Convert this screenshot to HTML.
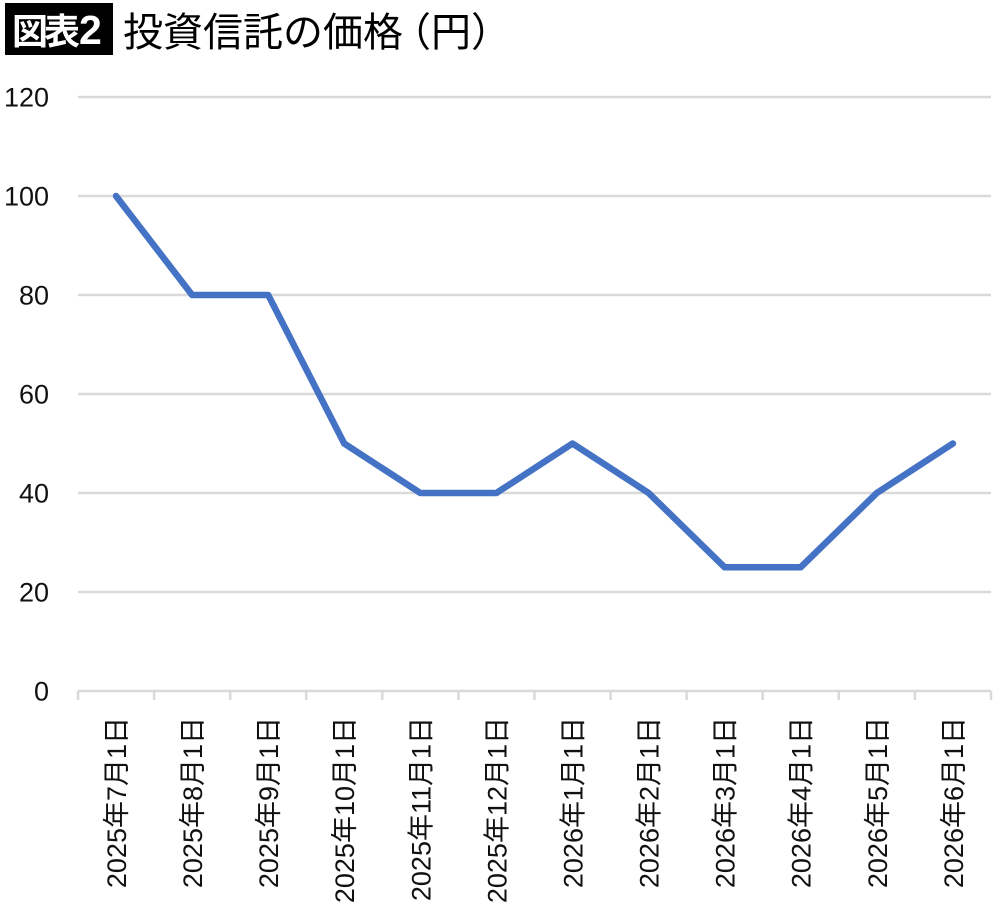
<!DOCTYPE html>
<html>
<head>
<meta charset="utf-8">
<style>
html,body{margin:0;padding:0;background:#fff;}
svg{display:block;}
text{font-family:"Liberation Sans","Noto Sans CJK JP",sans-serif;}
</style>
</head>
<body>
<svg width="1000" height="908" viewBox="0 0 1000 908" xmlns="http://www.w3.org/2000/svg">
<rect x="0" y="0" width="1000" height="908" fill="#fff"/>
<!-- Title -->
<rect x="5" y="3" width="108" height="52" fill="#000"/>
<text x="12" y="44" font-size="36" font-weight="bold" fill="#fff" letter-spacing="-4" style="font-family:'Noto Sans CJK JP',sans-serif">図表</text>
<text x="79" y="44" font-size="41" font-weight="bold" fill="#fff">2</text>
<text x="123" y="46" font-size="40" fill="#000" style="font-family:'Noto Sans CJK JP',sans-serif">投資信託の価格<tspan dx="-12">（</tspan><tspan>円</tspan><tspan>）</tspan></text>

<!-- Gridlines -->
<g stroke="#d9d9d9" stroke-width="2.5">
<line x1="78" y1="97" x2="991" y2="97"/>
<line x1="78" y1="196" x2="991" y2="196"/>
<line x1="78" y1="295" x2="991" y2="295"/>
<line x1="78" y1="394" x2="991" y2="394"/>
<line x1="78" y1="493" x2="991" y2="493"/>
<line x1="78" y1="592" x2="991" y2="592"/>
<line x1="78" y1="691" x2="991" y2="691"/>
</g>
<!-- Ticks -->
<g stroke="#d9d9d9" stroke-width="2.5">
<line x1="78" y1="691" x2="78" y2="700"/>
<line x1="154.1" y1="691" x2="154.1" y2="700"/>
<line x1="230.2" y1="691" x2="230.2" y2="700"/>
<line x1="306.2" y1="691" x2="306.2" y2="700"/>
<line x1="382.3" y1="691" x2="382.3" y2="700"/>
<line x1="458.4" y1="691" x2="458.4" y2="700"/>
<line x1="534.5" y1="691" x2="534.5" y2="700"/>
<line x1="610.6" y1="691" x2="610.6" y2="700"/>
<line x1="686.6" y1="691" x2="686.6" y2="700"/>
<line x1="762.7" y1="691" x2="762.7" y2="700"/>
<line x1="838.8" y1="691" x2="838.8" y2="700"/>
<line x1="914.9" y1="691" x2="914.9" y2="700"/>
<line x1="991" y1="691" x2="991" y2="700"/>
</g>

<!-- Y labels -->
<g font-size="27" fill="#111" text-anchor="end">
<text x="49" y="106.5">120</text>
<text x="49" y="205.5">100</text>
<text x="49" y="304.5">80</text>
<text x="49" y="403.5">60</text>
<text x="49" y="502.5">40</text>
<text x="49" y="601.5">20</text>
<text x="49" y="700.5">0</text>
</g>

<!-- X labels -->
<g font-size="27" fill="#111" text-anchor="end">
<text transform="translate(126,717) rotate(-90)">2025年7月1日</text>
<text transform="translate(202.1,717) rotate(-90)">2025年8月1日</text>
<text transform="translate(278.2,717) rotate(-90)">2025年9月1日</text>
<text transform="translate(354.2,717) rotate(-90)">2025年10月1日</text>
<text transform="translate(430.3,717) rotate(-90)">2025年11月1日</text>
<text transform="translate(506.4,717) rotate(-90)">2025年12月1日</text>
<text transform="translate(582.5,717) rotate(-90)">2026年1月1日</text>
<text transform="translate(658.6,717) rotate(-90)">2026年2月1日</text>
<text transform="translate(734.6,717) rotate(-90)">2026年3月1日</text>
<text transform="translate(810.7,717) rotate(-90)">2026年4月1日</text>
<text transform="translate(886.8,717) rotate(-90)">2026年5月1日</text>
<text transform="translate(962.9,717) rotate(-90)">2026年6月1日</text>
</g>

<!-- Data line -->
<polyline fill="none" stroke="#4472C4" stroke-width="6.5" stroke-linejoin="round" stroke-linecap="round"
points="116,196 192.1,295 268.2,295 344.2,443.5 420.3,493 496.4,493 572.5,443.5 648.6,493 724.6,567.25 800.7,567.25 876.8,493 952.9,443.5"/>
</svg>
</body>
</html>
